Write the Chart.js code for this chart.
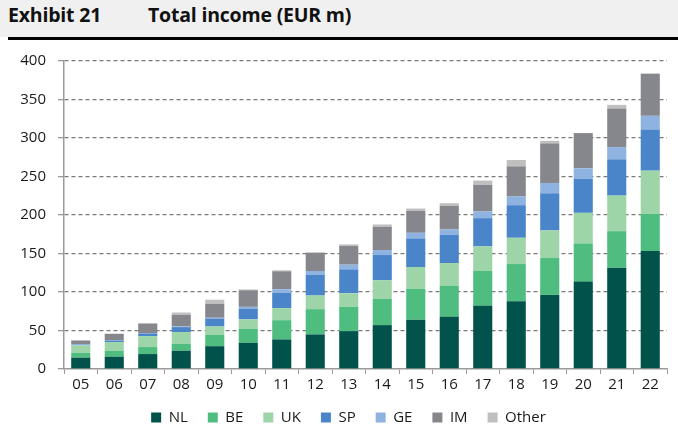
<!DOCTYPE html>
<html>
<head>
<meta charset="utf-8">
<script src="https://cdn.jsdelivr.net/npm/chart.js@4"></script>
<style>
  body { margin: 0; background: #fff; width: 678px; height: 428px; overflow: hidden; position: relative; font-family: "Open Sans", sans-serif; }
  .entete { position: absolute; left: 0; top: 0; width: 678px; height: 37px; background: #f0f0f0; }
  .entete span { position: absolute; top: 5px; line-height: 20px; font-weight: bold; font-size: 19.5px; color: #111; letter-spacing: -0.2px; }
  .trait { position: absolute; left: 8px; top: 37px; width: 670px; height: 3px; background: #000; }
  .zone { position: absolute; left: 0; top: 40px; width: 678px; height: 388px; }
</style>
</head>
<body>
<div class="entete">
  <span style="left:8px">Exhibit 21</span>
  <span style="left:148px">Total income (EUR m)</span>
</div>
<div class="trait"></div>
<div class="zone"><canvas id="graphique" width="678" height="388"></canvas></div>
<script>
const annees = ["05", "06", "07", "08", "09", "10", "11", "12", "13", "14", "15", "16", "17", "18", "19", "20", "21", "22"];

const nl = [14.7, 16, 19.4, 23.7, 29.6, 34, 38.4, 44.9, 49.2, 57, 63.9, 67.7, 82, 88, 96.2, 113.5, 131.6, 153.2];
const be = [6.4, 7.7, 9.1, 9.1, 14.6, 18, 25, 32.8, 31.5, 34, 40.1, 40.6, 45.3, 48.3, 47.9, 49.6, 47.4, 48.3];
const uk = [9.6, 11.3, 14.2, 15.2, 11, 12.5, 15.6, 17.7, 17.7, 24.2, 28.5, 29.3, 31.9, 34.1, 35.9, 39.7, 46.2, 56.1];
const sp = [1, 2, 3.5, 6.4, 10.3, 14, 19.8, 26.7, 31, 32.8, 37.1, 36.7, 36.7, 42.3, 48.2, 44.4, 47.1, 53.5];
const ge = [0.7, 0.5, 0.5, 0.8, 1, 2.2, 4.8, 5.2, 6.1, 6.5, 7.3, 6.9, 8.6, 11.3, 13.4, 13.4, 15.9, 17.7];
const im = [4.5, 8, 12.3, 15.1, 18, 21.6, 23.3, 23.7, 24.2, 30.2, 28.5, 30.7, 34.5, 39.2, 51.4, 45.8, 50.1, 54.8];
const autre = [0.5, 0.5, 0.5, 3.1, 5.5, 1, 1.3, 0.5, 2.1, 3, 3, 3.4, 5.7, 8.2, 3.4, 0, 4.7, 0];

const yTicks = [0, 50, 100, 150, 200, 250, 300, 350, 400];

const series = [
    ["NL", nl, "#00524a"],
    ["BE", be, "#4fbd80"],
    ["UK", uk, "#9dd5a8"],
    ["SP", sp, "#4a84c9"],
    ["GE", ge, "#8fb3e0"],
    ["IM", im, "#86878c"],
    ["Other", autre, "#bfbfbf"],
];

const couleurTexte = "#1a1a1a";
const police = { family: "Open Sans", size: 15 };

// force la hauteur de la légende et la décale un peu vers la droite
const ajusterLegende = {
    id: "ajusterLegende",
    beforeInit(chart) {
        const fitOrigine = chart.legend.fit;
        chart.legend.fit = function () {
            fitOrigine.bind(chart.legend)();
            this.height = 38;
        };
    },
    afterLayout(chart) {
        chart.legend.left += 15;
        chart.legend.right += 15;
    }
};

const ctx = document.getElementById("graphique").getContext("2d");
new Chart(ctx, {
    type: "bar",
    data: {
        labels: annees,
        datasets: series.map(([nom, valeurs, couleur]) => ({
            label: nom,
            data: valeurs,
            backgroundColor: couleur,
            borderWidth: 0,
            categoryPercentage: 0.57,
            barPercentage: 1,
        })),
    },
    options: {
        responsive: false,
        animation: false,
        layout: { padding: { left: 0, right: 11, top: 20, bottom: 0 } },
        scales: {
            x: {
                stacked: true,
                afterFit: (scale) => { scale.height = 21; },
                grid: {
                    offset: true,
                    drawOnChartArea: false,
                    drawTicks: true,
                    tickLength: 5,
                    tickColor: "#9a9a9a",
                },
                border: { color: "#9a9a9a", width: 1.5 },
                ticks: { color: couleurTexte, font: police, padding: 2, maxRotation: 0 },
            },
            y: {
                stacked: true,
                min: 0,
                max: 400,
                afterFit: (scale) => { scale.width = 64; },
                afterBuildTicks: (scale) => { scale.ticks = yTicks.map(v => ({ value: v })); },
                grid: {
                    color: (c) => c.tick && c.tick.value === 0 ? "rgba(0,0,0,0)" : "#7a7a7a",
                    lineWidth: 1.3,
                    tickLength: 6,
                    tickColor: "#9a9a9a",
                },
                border: { color: "#9a9a9a", width: 1.5, dash: [4, 3] },
                ticks: { color: couleurTexte, font: police, padding: 12 },
            },
        },
        plugins: {
            legend: {
                position: "bottom",
                labels: {
                    color: couleurTexte,
                    font: police,
                    boxWidth: 10,
                    boxHeight: 10,
                    padding: 20,
                },
            },
            tooltip: { enabled: false },
        },
    },
    plugins: [ajusterLegende],
});
</script>
</body>
</html>
